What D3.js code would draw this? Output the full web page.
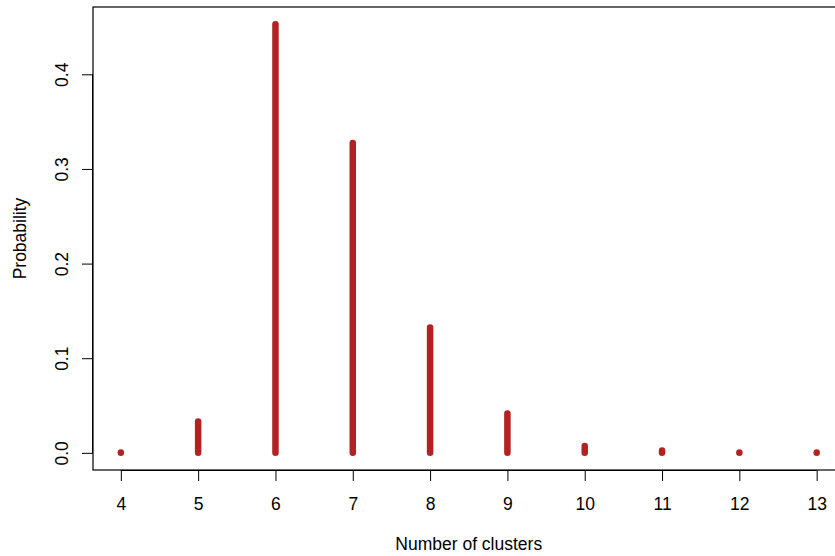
<!DOCTYPE html>
<html>
<head>
<meta charset="utf-8">
<script src="https://cdn.jsdelivr.net/npm/d3@7"></script>
<style>
  body { margin: 0; background: #fff; }
  svg { display: block; font-family: "Liberation Sans", Arial, sans-serif; }
</style>
</head>
<body>
<div id="chart"></div>
<script>
// Datos
const clusters = [4, 5, 6, 7, 8, 9, 10, 11, 12, 13];
const probs = [0.0003, 0.033, 0.453, 0.3275, 0.1325, 0.0415, 0.0072, 0.0025, 0.0005, 0.0003];
const xTicks = [4, 5, 6, 7, 8, 9, 10, 11, 12, 13];
const yTicks = [0, 0.1, 0.2, 0.3, 0.4];

const W = 835, H = 556;
const plot = { left: 93, top: 7, right: 844.5, bottom: 470 };
const fs = 17.5;

const svg = d3.select('#chart').append('svg')
  .attr('width', W).attr('height', H);

// Escalas con la extensión del 4% de R
const xExt = (d3.max(clusters) - d3.min(clusters)) * 0.04;
const x = d3.scaleLinear()
  .domain([d3.min(clusters) - xExt, d3.max(clusters) + xExt])
  .range([plot.left, plot.right]);

const yExt = d3.max(probs) * 0.04;
const y = d3.scaleLinear()
  .domain([-yExt, d3.max(probs) + yExt])
  .range([plot.bottom, plot.top]);

// Líneas verticales (type = "h")
svg.append('g')
  .selectAll('line')
  .data(clusters)
  .enter()
  .append('line')
  .attr('x1', d => x(d))
  .attr('x2', d => x(d))
  .attr('y1', y(0))
  .attr('y2', (d, i) => y(probs[i]))
  .attr('stroke', '#b22222')
  .attr('stroke-width', 6.5)
  .attr('stroke-linecap', 'round');

// Caja
svg.append('rect')
  .attr('x', plot.left).attr('y', plot.top)
  .attr('width', plot.right - plot.left)
  .attr('height', plot.bottom - plot.top)
  .attr('fill', 'none').attr('stroke', '#000').attr('stroke-width', 1.2);

// Eje X
const xAxis = svg.append('g')
  .attr('transform', `translate(0,${plot.bottom})`)
  .call(d3.axisBottom(x).tickValues(xTicks).tickSize(11).tickPadding(17).tickFormat(d3.format('d')));
xAxis.select('.domain').attr('d', `M${x(4)},0.5H${x(13)}`);
xAxis.selectAll('text').attr('font-size', fs).attr('font-family', null).attr('fill', '#000');

// Eje Y
const yAxis = svg.append('g')
  .attr('transform', `translate(${plot.left},0)`)
  .call(d3.axisLeft(y).tickValues(yTicks).tickSize(11).tickFormat(d3.format('.1f')));
yAxis.select('.domain').attr('d', `M-0.5,${y(0)}V${y(0.4)}`);
yAxis.selectAll('text')
  .attr('font-size', fs).attr('font-family', null).attr('fill', '#000')
  .attr('x', null).attr('dy', null)
  .attr('text-anchor', 'middle')
  .attr('transform', 'translate(-25,0) rotate(-90)');

// Títulos
svg.append('text')
  .attr('x', (plot.left + plot.right) / 2)
  .attr('y', 550)
  .attr('text-anchor', 'middle')
  .attr('font-size', fs)
  .text('Number of clusters');

svg.append('text')
  .attr('transform', `translate(26,${(plot.top + plot.bottom) / 2}) rotate(-90)`)
  .attr('text-anchor', 'middle')
  .attr('font-size', fs)
  .text('Probability');
</script>
</body>
</html>
